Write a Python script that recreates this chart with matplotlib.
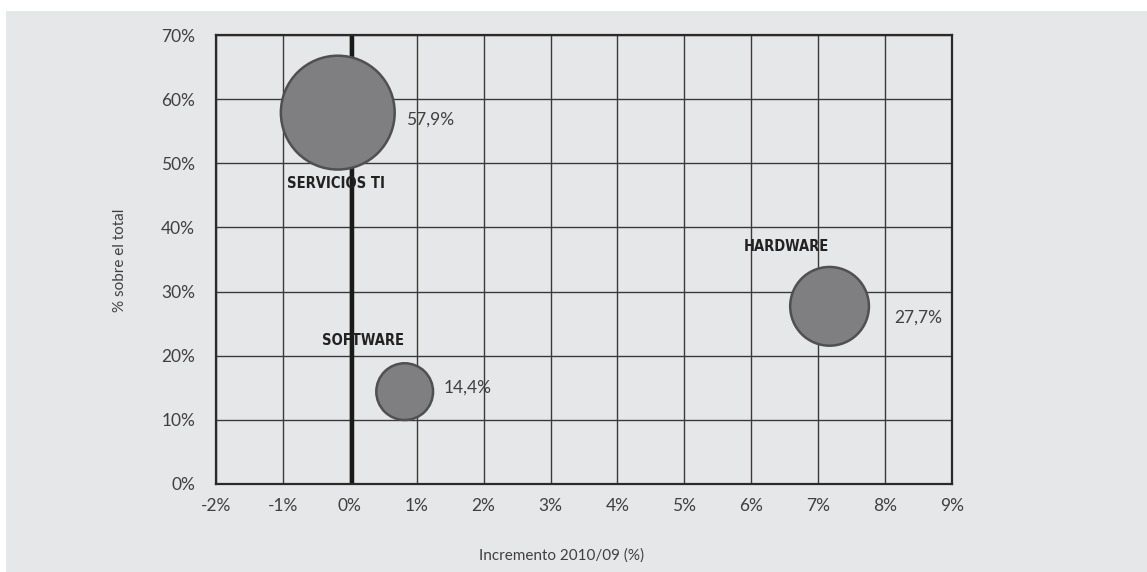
import matplotlib
matplotlib.use("Agg")
import matplotlib.pyplot as plt
from matplotlib.patches import Rectangle
from matplotlib.ticker import FuncFormatter

categories = ["SERVICIOS TI", "SOFTWARE", "HARDWARE"]
increment = [-0.18, 0.82, 7.17]      # % increment 2010/09
share = [57.9, 14.4, 27.7]           # % of total
share_labels = ["57,9%", "14,4%", "27,7%"]
xticks = list(range(-2, 10))
yticks = list(range(0, 80, 10))

TXT = "#404040"
FONT = ["Lato", "DejaVu Sans"]

W, H = 1147, 572
fig = plt.figure(figsize=(W / 100, H / 100), dpi=100)
fig.patch.set_facecolor("white")
fig.patches.append(Rectangle((6 / W, 0), 1 - 6 / W, (H - 11) / H, transform=fig.transFigure,
                             facecolor="#e6e7e9", edgecolor="none", zorder=-10))

ax = fig.add_axes([216 / W, 1 - 484 / H, (952 - 216) / W, (484 - 35) / H])
ax.set_facecolor("#e6e7e9")
ax.set_xlim(-2, 9)
ax.set_ylim(0, 70)
ax.set_xticks(xticks)
ax.set_yticks(yticks)
ax.grid(True, color="#3a3a3a", linewidth=1.0)
ax.set_axisbelow(True)
for s in ax.spines.values():
    s.set_color("#2a2a2a")
    s.set_linewidth(1.6)
ax.tick_params(axis="x", length=0, labelsize=12.5, labelcolor=TXT, pad=10)
ax.tick_params(axis="y", length=0, labelsize=12.5, labelcolor=TXT, pad=15)
ax.xaxis.set_major_formatter(FuncFormatter(lambda v, p: f"{int(v)}%"))
ax.yaxis.set_major_formatter(FuncFormatter(lambda v, p: f"{int(v)}%"))
for lab in ax.get_xticklabels() + ax.get_yticklabels():
    lab.set_family(FONT)

ax.axvline(0.04, color="#1a1a1a", linewidth=3.2, zorder=1.5)

k = 116
ax.scatter(increment, share, s=[v * k for v in share], facecolor="#7f7f82",
           edgecolor="#505052", linewidth=1.8, zorder=3)

val_offsets = [(1.38, -1.1), (0.94, 0.6), (1.32, -1.8)]
cat_pos = [(-0.21, 46.8), (0.19, 22.3), (6.52, 37.1)]
for i, c in enumerate(categories):
    ax.text(increment[i] + val_offsets[i][0], share[i] + val_offsets[i][1], share_labels[i],
            ha="center", va="center", fontsize=12.5, color=TXT, family=FONT, zorder=4)
    ax.text(cat_pos[i][0], cat_pos[i][1], c, ha="center", va="center", fontsize=10.5,
            fontweight="bold", fontstretch="condensed", color="#222222",
            family=["DejaVu Sans"], zorder=4)

fig.text(120 / W, 1 - 260 / H, "% sobre el total", rotation=90, ha="center", va="center",
         fontsize=11, color=TXT, family=FONT)
fig.text(562 / W, 1 - 556 / H, "Incremento 2010/09 (%)", ha="center", va="center",
         fontsize=11, color=TXT, family=FONT)

fig.savefig("out.png", dpi=100, facecolor=fig.get_facecolor())
